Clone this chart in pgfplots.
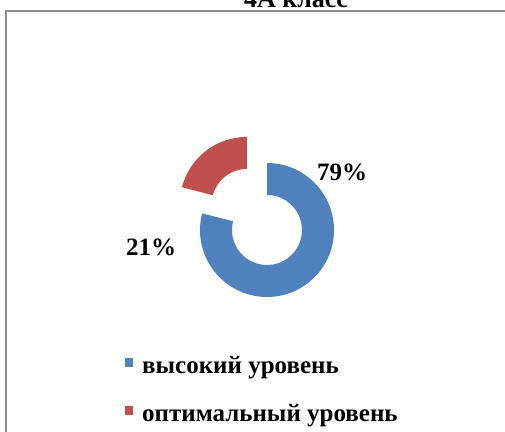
\documentclass[border=0pt]{standalone}
\usepackage{pgfplots}
\pgfplotsset{compat=1.18}
\usepackage{fontspec}
\setmainfont{Liberation Serif}
\definecolor{cblue}{HTML}{4F81BD}
\definecolor{cred}{HTML}{C0504D}
\definecolor{frame}{HTML}{8C8C8C}
% data: high level 79 %, optimal level 21 %
\def\valA{79}
\def\valB{21}
\pgfmathsetmacro{\angEnd}{90-\valA*3.6}
\pgfmathsetmacro{\angEndB}{360+\angEnd}
\pgfmathsetmacro{\angMid}{(\angEndB+90)/2}
\begin{document}
\begin{tikzpicture}
\begin{axis}[scale only axis, width=505bp, height=432bp,
  xmin=0, xmax=505, ymin=0, ymax=432, y dir=reverse,
  hide axis, clip=false]
% frame
\draw[color=frame, line width=2bp] (axis cs:6,440) -- (axis cs:6,11) -- (axis cs:512,11);
% title (cut off at top)
\node[overlay, font=\bfseries\fontsize{26bp}{30bp}\selectfont, anchor=base] at (axis cs:296,8) {4А класс};
% blue segment
\fill[cblue] (axis cs:267,230) ++(90:67bp)
  arc[start angle=90, end angle=\angEnd, radius=67bp]
  -- ++(\angEnd:-32bp)
  arc[start angle=\angEnd, end angle=90, radius=35bp] -- cycle;
% red segment (exploded)
\fill[cred] (axis cs:267,230) ++(\angMid:33bp) ++(\angEndB:67bp)
  arc[start angle=\angEndB, end angle=90, radius=67bp]
  -- ++(90:-32bp)
  arc[start angle=90, end angle=\angEndB, radius=35bp] -- cycle;
% data labels
\node[font=\bfseries\fontsize{25bp}{30bp}\selectfont, anchor=base] at (axis cs:342,180) {\valA\%};
\node[font=\bfseries\fontsize{25bp}{30bp}\selectfont, anchor=base] at (axis cs:151,255) {\valB\%};
% legend
\fill[cblue] (axis cs:125,358) rectangle (axis cs:133,367);
\fill[cred] (axis cs:125,406) rectangle (axis cs:133,415);
\node[font=\bfseries\fontsize{25bp}{28bp}\selectfont, anchor=base west, inner sep=0pt] at (axis cs:142,373) {высокий уровень};
\node[font=\bfseries\fontsize{25bp}{28bp}\selectfont, anchor=base west, inner sep=0pt] at (axis cs:142,421) {оптимальный уровень};
\end{axis}
\pgfresetboundingbox
\path[use as bounding box] (current axis.south west) rectangle (current axis.north east);
\end{tikzpicture}
\end{document}
